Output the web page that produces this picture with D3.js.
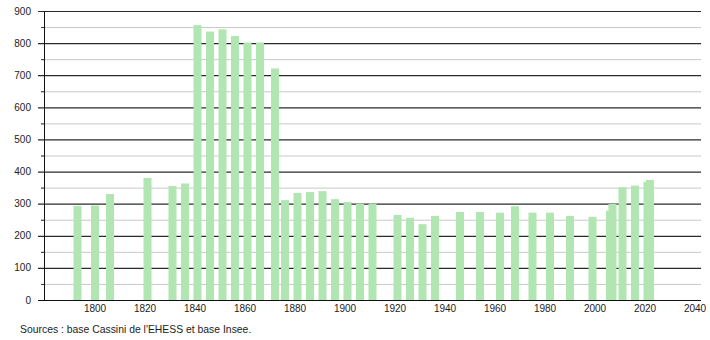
<!DOCTYPE html>
<html>
<head>
<meta charset="utf-8">
<script src="https://cdn.jsdelivr.net/npm/d3@7"></script>
<style>
  body { margin: 0; background: #fff; }
  text { font-family: "Liberation Sans", Arial, sans-serif; }
</style>
</head>
<body>
<div id="vis"></div>
<script>
// census years and population
const years = [1793, 1800, 1806, 1821, 1831, 1836, 1841, 1846, 1851, 1856, 1861, 1866, 1872,
  1876, 1881, 1886, 1891, 1896, 1901, 1906, 1911, 1921, 1926, 1931, 1936, 1946, 1954,
  1962, 1968, 1975, 1982, 1990, 1999, 2006, 2007, 2011, 2016, 2021, 2022]
const population = [293, 294, 330, 380, 355, 363, 856, 836, 843, 822, 802, 802, 721,
  311, 333, 336, 339, 314, 305, 300, 300, 265, 256, 236, 262, 274, 274,
  272, 292, 272, 272, 262, 259, 278, 299, 351, 356, 368, 374]
const xTicks = [1800, 1820, 1840, 1860, 1880, 1900, 1920, 1940, 1960, 1980, 2000, 2020, 2040]
const yTicks = [0, 100, 200, 300, 400, 500, 600, 700, 800, 900]
const yMinor = [50, 150, 250, 350, 450, 550, 650, 750, 850]
const source = "Sources : base Cassini de l'EHESS et base Insee."

const W = 710, H = 340
const plot = {left: 44, right: 701, top: 11, bottom: 300}
const barW = 8

const svg = d3.select('#vis')
  .append('svg')
  .attr('width', W)
  .attr('height', H)

const xScale = d3.scaleLinear().domain([1800, 2040]).range([95, 695])
const yScale = d3.scaleLinear().domain([0, 900]).range([plot.bottom, plot.top])

// minor gridlines
svg.selectAll('.minor')
  .data(yMinor)
  .join('line')
  .attr('x1', plot.left - 3).attr('x2', plot.right)
  .attr('y1', d => yScale(d) + 0.5).attr('y2', d => yScale(d) + 0.5)
  .attr('stroke', '#c8c8c8')
  .attr('stroke-width', 1)
svg.selectAll('.minorTick')
  .data(yMinor)
  .join('line')
  .attr('x1', plot.left - 3).attr('x2', plot.left)
  .attr('y1', d => yScale(d) + 0.5).attr('y2', d => yScale(d) + 0.5)
  .attr('stroke', '#333')

// major gridlines
svg.selectAll('.major')
  .data(yTicks.filter(d => d > 0))
  .join('line')
  .attr('x1', plot.left - 6).attr('x2', plot.right)
  .attr('y1', d => yScale(d) + 0.5).attr('y2', d => yScale(d) + 0.5)
  .attr('stroke', '#2a2a2a')
  .attr('stroke-width', 1.2)

// bars
svg.selectAll('.bar')
  .data(years)
  .join('rect')
  .attr('class', 'bar')
  .attr('x', d => xScale(d) - barW / 2)
  .attr('width', barW)
  .attr('y', (d, i) => yScale(population[i]))
  .attr('height', (d, i) => plot.bottom - yScale(population[i]))
  .attr('fill', '#b1e5b1')

// axes
svg.append('line')
  .attr('x1', plot.left + 0.5).attr('x2', plot.left + 0.5)
  .attr('y1', plot.top).attr('y2', plot.bottom)
  .attr('stroke', '#111')
svg.append('line')
  .attr('x1', plot.left - 6).attr('x2', plot.right)
  .attr('y1', plot.bottom + 0.5).attr('y2', plot.bottom + 0.5)
  .attr('stroke', '#111')

svg.selectAll('.ylab')
  .data(yTicks)
  .join('text')
  .attr('x', 31)
  .attr('y', d => yScale(d) + 3.5)
  .attr('text-anchor', 'end')
  .style('font-size', '10px')
  .attr('fill', '#222')
  .text(d => d)

svg.selectAll('.xlab')
  .data(xTicks)
  .join('text')
  .attr('x', d => xScale(d))
  .attr('y', 312)
  .attr('text-anchor', 'middle')
  .style('font-size', '10px')
  .attr('fill', '#222')
  .text(d => d)

svg.append('text')
  .attr('x', 20)
  .attr('y', 333)
  .style('font-size', '10.4px')
  .attr('fill', '#222')
  .text(source)
</script>
</body>
</html>
